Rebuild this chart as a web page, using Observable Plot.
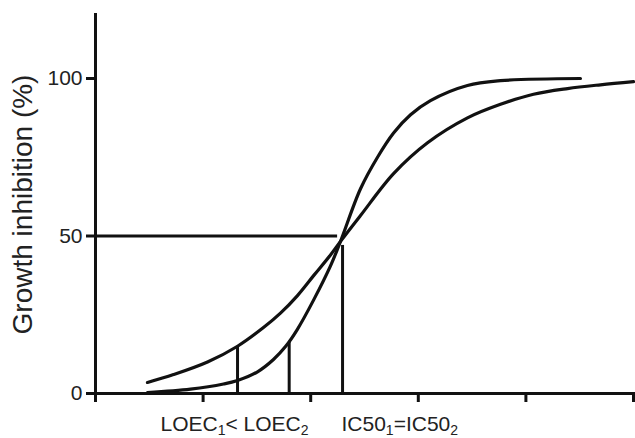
<!DOCTYPE html>
<html>
<head>
<meta charset="utf-8">
<script src="https://cdn.jsdelivr.net/npm/d3@7"></script>
<script src="https://cdn.jsdelivr.net/npm/@observablehq/plot@0.6"></script>
<style>
  html, body { margin: 0; padding: 0; background: #fff; }
  svg { display: block; }
</style>
</head>
<body>
<div id="chart"></div>
<script>
// Shallow curve (curve 1)
const shallowX = [0.483, 0.725, 1.041, 1.320, 1.564, 1.719, 1.875, 2.029, 2.184, 2.277, 2.463, 2.770, 3.086, 3.457, 3.764, 4.071, 4.387, 4.693, 5.000];
const shallowY = [3.5, 6.0, 10.0, 15.0, 21.0, 25.5, 31.0, 37.5, 44.0, 48.3, 56.5, 69.8, 79.6, 87.5, 91.8, 95.0, 96.8, 98.0, 99.0];
// Steep curve (curve 2)
const steepX = [0.483, 0.883, 1.190, 1.320, 1.506, 1.654, 1.766, 1.875, 2.029, 2.184, 2.277, 2.463, 2.621, 2.770, 2.928, 3.113, 3.457, 3.764, 4.507];
const steepY = [0.3, 1.4, 3.0, 4.1, 6.9, 10.8, 14.9, 20.3, 29.8, 40.5, 48.3, 65.0, 75.0, 82.7, 88.5, 93.0, 97.8, 99.3, 100];
// Drop lines: LOEC1, LOEC2, IC50
const dropX = [1.320, 1.800, 2.296];
const dropTop = [15.0, 16.2, 47];
// Horizontal 50% line
const halfLevel = 50;
const halfEndX = 2.25;
// Axis ticks
const xTicks = [0, 1, 2, 3, 4, 5];
const yTicks = [0, 50, 100];
const yTitle = "Growth inhibition (%)";
// Bottom labels
const bottomLabelX = [0.604, 2.286];
const bottomLabelText = ["LOEC₁< LOEC₂", "IC50₁=IC50₂"];

const shallow = shallowX.map((x, i) => ({x, y: shallowY[i]}));
const steep = steepX.map((x, i) => ({x, y: steepY[i]}));
const drops = dropX.map((x, i) => ({x, top: dropTop[i]}));
const labels = bottomLabelX.map((x, i) => ({x, text: bottomLabelText[i]}));

const FONT = "'Liberation Sans', Arial, Helvetica, sans-serif";
const INK = "#111";

const chart = Plot.plot({
  width: 635,
  height: 438,
  marginLeft: 95,
  marginRight: 2,
  marginTop: 15,
  marginBottom: 45,
  style: {fontFamily: FONT, color: INK, background: "#fff"},
  x: {domain: [0, 5]},
  y: {domain: [0, 120]},
  marks: [
    Plot.axisX({ticks: xTicks, tickSize: 9, tickFormat: () => "", strokeWidth: 3, stroke: INK, label: null}),
    Plot.axisY({ticks: yTicks, tickSize: 9, tickPadding: 4, fontSize: 21, strokeWidth: 3, stroke: INK, label: null, fill: "#222"}),
    Plot.ruleY([0], {x1: 0, x2: 5.02, stroke: INK, strokeWidth: 3}),
    Plot.ruleX([0], {y1: -0.5, y2: 120.6, stroke: INK, strokeWidth: 3}),
    Plot.ruleY([halfLevel], {x1: 0, x2: halfEndX, stroke: INK, strokeWidth: 3}),
    Plot.ruleX(drops, {x: "x", y1: 0, y2: "top", stroke: INK, strokeWidth: 3}),
    Plot.line(shallow, {x: "x", y: "y", curve: "catmull-rom", stroke: INK, strokeWidth: 3.2}),
    Plot.line(steep, {x: "x", y: "y", curve: "catmull-rom", stroke: INK, strokeWidth: 3.2}),
    Plot.text([yTitle], {frameAnchor: "left", textAnchor: "middle", lineAnchor: "middle", rotate: -90, dx: -72.5, fontSize: 28, fill: "#222"}),
    Plot.text(labels, {x: "x", y: -9.9, text: "text", textAnchor: "start", fontSize: 21, fill: "#222", className: "sublabel"})
  ]
});

// Render unicode subscripts as real smaller, lowered tspans
const subMap = {"₀":"0","₁":"1","₂":"2","₃":"3","₄":"4","₅":"5","₆":"6","₇":"7","₈":"8","₉":"9"};
d3.select(chart).selectAll(".sublabel text").each(function() {
  const el = d3.select(this);
  const str = el.text();
  el.text("");
  let buf = "", sub = false, shifted = false;
  const flush = () => {
    if (!buf) return;
    const t = el.append("tspan").text(buf);
    if (sub) { t.attr("font-size", 14).attr("dy", shifted ? null : 4); shifted = true; }
    else { if (shifted) t.attr("dy", -4); shifted = false; }
    buf = "";
  };
  for (const ch of str) {
    const isSub = ch in subMap;
    if (isSub !== sub) { flush(); sub = isSub; }
    buf += isSub ? subMap[ch] : ch;
  }
  flush();
});
d3.select(chart).selectAll(".sublabel text").attr("xml:space", "preserve").style("white-space", "pre");

document.getElementById("chart").appendChild(chart);
</script>
</body>
</html>
